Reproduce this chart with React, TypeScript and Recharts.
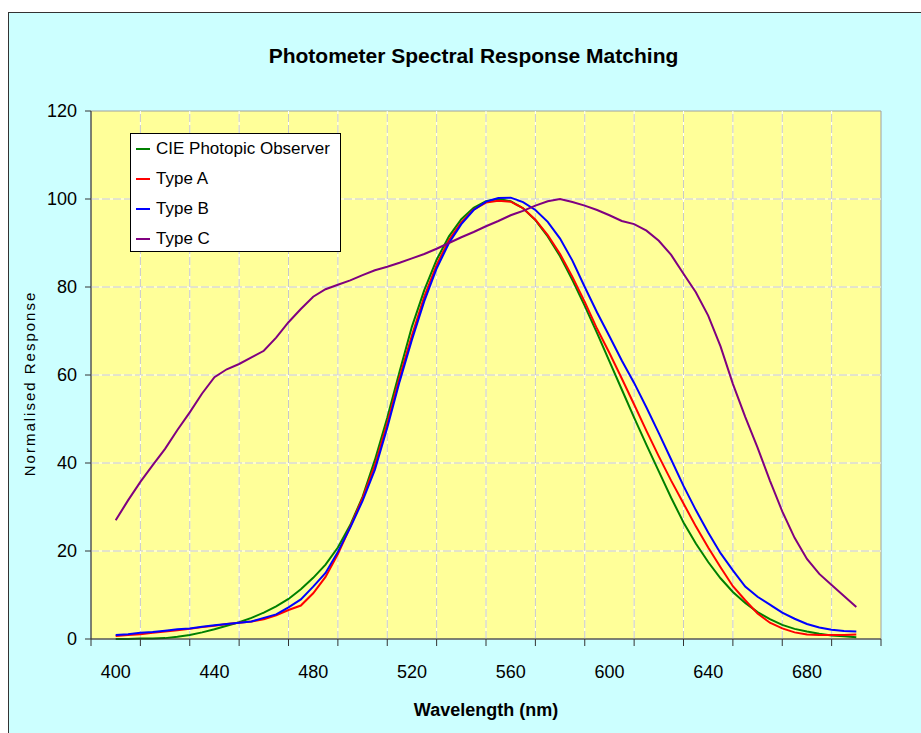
import { LineChart, Line, XAxis, YAxis, ReferenceLine, ReferenceArea } from "recharts";

// wavelength (nm) and normalised response
const wavelengths = [
  400, 405, 410, 415, 420, 425, 430, 435, 440, 445, 450,
  455, 460, 465, 470, 475, 480, 485, 490, 495, 500,
  505, 510, 515, 520, 525, 530, 535, 540, 545, 550,
  555, 560, 565, 570, 575, 580, 585, 590, 595, 600,
  605, 610, 615, 620, 625, 630, 635, 640, 645, 650,
  655, 660, 665, 670, 675, 680, 685, 690, 695, 700,
];

const cieObserver = [
  0.0, 0.0, 0.1, 0.1, 0.2, 0.5, 0.9, 1.5, 2.2, 3.0, 3.8,
  4.8, 6.0, 7.4, 9.1, 11.3, 13.9, 16.9, 20.8, 25.9, 32.3,
  40.7, 50.3, 60.8, 71.0, 79.3, 86.2, 91.5, 95.4, 98.0, 99.5,
  100.0, 99.5, 97.9, 95.2, 91.5, 87.0, 81.6, 75.7, 69.5, 63.1,
  56.7, 50.3, 44.1, 38.1, 32.1, 26.5, 21.7, 17.5, 13.8, 10.7,
  8.2, 6.1, 4.5, 3.2, 2.3, 1.7, 1.2, 0.8, 0.6, 0.4,
];

const typeA = [
  0.7, 0.9, 1.1, 1.4, 1.7, 2.0, 2.3, 2.7, 3.0, 3.4, 3.7,
  4.0, 4.5, 5.4, 6.6, 7.6, 10.4, 14.1, 19.3, 25.5, 32.0,
  39.5, 49.0, 59.5, 69.0, 77.8, 85.0, 90.7, 94.7, 97.6, 99.2,
  99.6, 99.4, 97.9, 95.3, 91.8, 87.5, 82.3, 76.6, 70.5, 65.0,
  59.2, 53.3, 47.3, 41.5, 36.0, 30.8, 25.6, 20.8, 16.3, 12.0,
  8.8, 5.8, 3.7, 2.4, 1.5, 1.0, 0.9, 0.9, 0.9, 1.0,
];

const typeB = [
  0.9, 1.1, 1.4, 1.6, 1.9, 2.2, 2.4, 2.8, 3.1, 3.4, 3.7,
  4.0, 4.8, 5.6, 7.2, 9.0, 11.9, 15.0, 19.8, 25.3, 31.4,
  38.5, 48.0, 58.5, 68.0, 76.8, 84.2, 90.0, 94.3, 97.5, 99.4,
  100.2, 100.3, 99.3, 97.5, 94.8, 91.0, 86.0, 80.0, 74.2, 68.8,
  63.3, 58.2, 52.6, 46.8, 40.8, 34.8, 29.3, 24.2, 19.5, 15.6,
  11.9, 9.6, 7.8, 6.0, 4.6, 3.4, 2.6, 2.1, 1.8, 1.7,
];

const typeC = [
  27.0, 31.5, 35.7, 39.5, 43.2, 47.5, 51.5, 55.8, 59.5, 61.3, 62.5,
  64.0, 65.5, 68.5, 72.0, 75.0, 77.8, 79.5, 80.5, 81.5, 82.7,
  83.8, 84.6, 85.5, 86.5, 87.5, 88.7, 90.0, 91.3, 92.5, 93.8,
  95.0, 96.3, 97.3, 98.5, 99.5, 100.0, 99.3, 98.5, 97.5, 96.3,
  95.0, 94.3, 92.8, 90.5, 87.3, 83.0, 78.8, 73.5, 66.5, 58.0,
  50.5, 43.5, 36.0, 29.0, 23.0, 18.2, 14.8, 12.3, 9.8, 7.3,
];

const xLabels = [400, 440, 480, 520, 560, 600, 640, 680];
const xTickMarks = [390, 410, 430, 450, 470, 490, 510, 530, 550, 570, 590, 610, 630, 650, 670, 690, 710];
const gridX = [410, 430, 450, 470, 490, 510, 530, 550, 570, 590, 610, 630, 650, 670, 690];
const gridY = [20, 40, 60, 80, 100];
const yTicks = [0, 20, 40, 60, 80, 100, 120];

const series = [
  { key: "cie", name: "CIE Photopic Observer", color: "#008000" },
  { key: "a", name: "Type A", color: "#ff0000" },
  { key: "b", name: "Type B", color: "#0000ff" },
  { key: "c", name: "Type C", color: "#800080" },
];

const data = wavelengths.map((nm, i) => ({
  nm,
  cie: cieObserver[i],
  a: typeA[i],
  b: typeB[i],
  c: typeC[i],
}));

const allXTicks = [...xTickMarks, ...xLabels].sort((p, q) => p - q);

const FONT = "'Liberation Sans', Arial, sans-serif";

function WaveTick(props: any) {
  const { x, y, payload } = props;
  const v = payload.value;
  return (
    <g>
      {xTickMarks.includes(v) && <line x1={x} x2={x} y1={y} y2={y + 7} stroke="#333" />}
      {xLabels.includes(v) && (
        <text x={x} y={y + 39} textAnchor="middle" fontSize={18} fill="#000">
          {v}
        </text>
      )}
    </g>
  );
}

export default function App() {
  return (
    <div
      style={{
        position: "fixed",
        left: 8,
        top: 12,
        width: 913,
        height: 721,
        boxSizing: "border-box",
        borderTop: "1px solid #333",
        borderLeft: "1px solid #333",
        background: "#ccffff",
        fontFamily: FONT,
      }}
    >
      <LineChart
        width={912}
        height={720}
        data={data}
        margin={{ top: 98, right: 40, bottom: 0, left: 0 }}
      >
        <ReferenceArea x1={390} x2={710} y1={0} y2={120} fill="#ffff99" fillOpacity={1} stroke="#a0a0a0" />
        {gridY.map((v) => (
          <ReferenceLine key={"hw" + v} y={v} stroke="#ffffff" />
        ))}
        {gridY.map((v) => (
          <ReferenceLine key={"hg" + v} y={v} stroke="#c8c8c8" strokeDasharray="8 3" />
        ))}
        {gridX.map((v) => (
          <ReferenceLine key={"vw" + v} x={v} stroke="#ffffff" />
        ))}
        {gridX.map((v) => (
          <ReferenceLine key={"vg" + v} x={v} stroke="#c8c8c8" strokeDasharray="8 3" />
        ))}
        <XAxis
          dataKey="nm"
          type="number"
          domain={[390, 710]}
          ticks={allXTicks}
          interval={0}
          tickLine={false}
          tickSize={0}
          tickMargin={0}
          tick={<WaveTick />}
          axisLine={{ stroke: "#333" }}
          height={94}
        />
        <YAxis
          type="number"
          domain={[0, 120]}
          ticks={yTicks}
          interval={0}
          width={82}
          tickSize={6}
          tickMargin={8}
          tick={{ fontSize: 18, fill: "#000" }}
          tickLine={{ stroke: "#333" }}
          axisLine={{ stroke: "#333" }}
        />
        {series.map((s) => (
          <Line
            key={s.key}
            dataKey={s.key}
            name={s.name}
            type="linear"
            stroke={s.color}
            strokeWidth={2}
            dot={false}
            isAnimationActive={false}
          />
        ))}
      </LineChart>

      <svg
        width={912}
        height={720}
        style={{ position: "absolute", left: 0, top: 0, pointerEvents: "none" }}
      >
        <text x={464.5} y={50} textAnchor="middle" fontSize={21} fontWeight="bold" fill="#000">
          Photometer Spectral Response Matching
        </text>
        <text x={477} y={703} textAnchor="middle" fontSize={18} fontWeight="bold" fill="#000">
          Wavelength (nm)
        </text>
        <text
          x={20}
          y={370.5}
          transform="rotate(-90, 20, 370.5)"
          textAnchor="middle"
          dominantBaseline="central"
          fontSize={15}
          letterSpacing={2}
          fill="#000"
        >
          Normalised Response
        </text>
      </svg>

      <div
        style={{
          position: "absolute",
          left: 121,
          top: 120,
          width: 211,
          height: 119,
          boxSizing: "border-box",
          border: "1px solid #000",
          background: "#fff",
          fontSize: 17,
        }}
      >
        {series.map((s) => (
          <div key={s.key} style={{ display: "flex", alignItems: "center", height: 30 }}>
            <span
              style={{
                display: "inline-block",
                width: 14,
                height: 0,
                borderTop: `2px solid ${s.color}`,
                marginLeft: 5,
                marginRight: 6,
              }}
            />
            <span style={{ whiteSpace: "nowrap" }}>{s.name}</span>
          </div>
        ))}
      </div>
    </div>
  );
}
